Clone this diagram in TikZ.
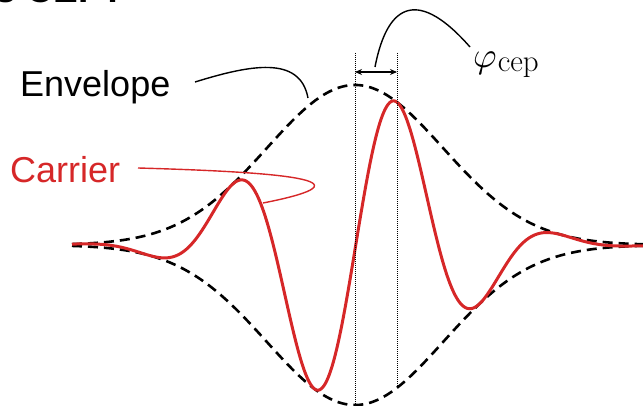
\documentclass[tikz,border=0pt]{standalone}
\usepackage{graphicx}
\usepackage{fontspec}
\newfontfamily\labelfont{Liberation Sans}
\usetikzlibrary{arrows.meta}
\definecolor{carrierred}{RGB}{214,39,40}
\tikzset{
  envelopeline/.style={line width=2.6pt, dash pattern=on 10pt off 6pt},
  carrierline/.style={line width=3pt, carrierred},
  guide/.style={line width=0.8pt, dash pattern=on 1pt off 1pt},
  leader/.style={line width=1.4pt},
  labeltext/.style={inner sep=0pt, font=\labelfont\fontsize{36}{40}\selectfont},
}
\begin{document}
\begin{tikzpicture}[x=1pt,y=-1pt]
\useasboundingbox (0,0) rectangle (643,406);
% partially visible title
\node[anchor=base east, inner sep=0pt, font=\labelfont\bfseries\fontsize{37}{40}\selectfont] (title) at (125.6,2.5) {What is CEP?};
% envelope (upper and lower)
\draw[envelopeline] plot[domain=72:643, samples=200, smooth] (\x, {245 - 160*exp(-(((\x-355)/88)^2)/2)});
\draw[envelopeline] plot[domain=72:643, samples=200, smooth] (\x, {245 + 160*exp(-(((\x-355)/88)^2)/2)});
% carrier
\draw[carrierline] plot[domain=72:643, samples=400, smooth] (\x, {245 - 160*exp(-(((\x-355)/88)^2)/2)*cos(2.1818*(\x-397))});
% guides
\coordinate (g1top) at (355,53);
\coordinate (g1bot) at (355,405);
\coordinate (g2top) at (397,53);
\coordinate (g2bot) at (397,388);
\draw[guide] (g1top) -- (g1bot);
\draw[guide] (g2top) -- (g2bot);
\coordinate (a1) at (355,72);
\coordinate (a2) at (397,72);
\draw[line width=1.1pt, {Stealth[length=7pt,width=6pt]}-{Stealth[length=7pt,width=6pt]}] (a1) -- (a2);
% labels
\node[labeltext, anchor=base west] (env) at (20,97) {Envelope};
\node[labeltext, anchor=base west, text=carrierred] (car) at (10,183) {Carrier};
\node[anchor=base west, inner sep=0pt] (phi) at (473,68) {\scalebox{3.6}{$\varphi$}\hspace{1pt}\raisebox{-4pt}{\fontsize{31}{34}\selectfont cep}};
% leaders
\coordinate (envstart) at (195,82);
\coordinate (envend) at (308,98);
\draw[leader] (envstart) .. controls (250,65) and (300,55) .. (envend);
\coordinate (carstart) at (138,168);
\coordinate (carend) at (263,203);
\draw[leader, carrierred] (carstart) .. controls (280,172) and (380,180) .. (carend);
\coordinate (phistart) at (375,67);
\coordinate (phiend) at (470,47);
\draw[leader] (phistart) .. controls (388,0) and (420,-10) .. (phiend);
\end{tikzpicture}
\end{document}
